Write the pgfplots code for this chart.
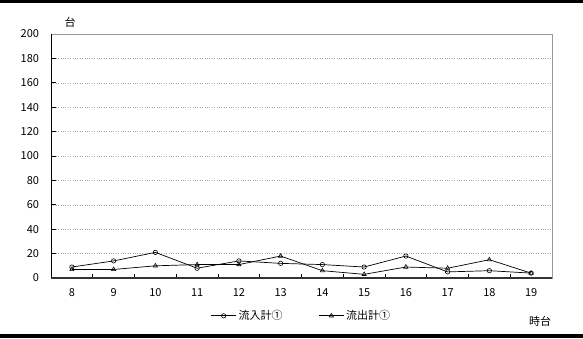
\documentclass[border=0pt]{standalone}
\usepackage{fontspec}
\setmainfont{Noto Sans CJK JP}
\usepackage{pgfplots}
\pgfplotsset{compat=1.18}
\begin{document}
\begin{tikzpicture}[x=1pt,y=1pt]
\path[use as bounding box] (0,0) rectangle (583,338);
% rules above and below the chart
\fill[black] (0,335.3) rectangle (583,338);
\fill[black] (0,0) rectangle (583,3.6);
\begin{axis}[
  at={(51pt,60pt)}, anchor=south west,
  scale only axis, width=501pt, height=244pt,
  xmin=7.5, xmax=19.5, ymin=0, ymax=200,
  xtick={7.5,8.5,...,19.5}, x tick label as interval,
  xticklabels={8,9,10,11,12,13,14,15,16,17,18,19},
  ytick={0,20,...,200},
  xtick pos=bottom, ytick pos=left,
  xtick align=inside, ytick align=inside,
  major tick length=4.5pt,
  every tick/.style={black, line width=0.9pt},
  ymajorgrids, major grid style={gray!70, dotted, line width=0.6pt},
  axis line style={gray!80, line width=0.6pt},
  ticklabel style={font=\fontsize{11}{12}\selectfont},
  yticklabel style={xshift=-8.5pt, /pgf/number format/assume math mode=true},
  xticklabel style={yshift=-7pt},
  legend style={at={(0.5,-0.155)}, anchor=center, draw=none, fill=none,
    legend columns=2, font=\fontsize{11}{12}\selectfont,
    /tikz/every even column/.append style={column sep=34pt}},
  legend image code/.code={\draw[mark repeat=2,mark phase=2]
    plot coordinates {(0pt,0pt)(12.5pt,0pt)(25pt,0pt)};},
  clip=false,
]
\addplot[black, line width=0.7pt, mark=o, mark size=2.2pt,
  mark options={fill=white, line width=0.6pt}]
  coordinates {(8,9)(9,14)(10,21)(11,8)(12,14)(13,12)(14,11)(15,9)(16,18)(17,5)(18,6)(19,4)};
\addlegendentry{流入計①}
\addplot[black, line width=0.7pt, mark=triangle, mark size=2.4pt,
  mark options={fill=white, line width=0.6pt}]
  coordinates {(8,7)(9,7)(10,10)(11,11)(12,11)(13,18)(14,6)(15,3)(16,9)(17,8)(18,15)(19,4)};
\addlegendentry{流出計①}
\draw[black, line width=1pt] (rel axis cs:0,0) -- (rel axis cs:0,1);
\draw[black!80, line width=1.8pt] (rel axis cs:0,0) -- (rel axis cs:1,0);
\end{axis}
\node[font=\fontsize{11}{12}\selectfont] at (70,316) {台};
\node[font=\fontsize{11}{12}\selectfont] at (540,17) {時台};
\end{tikzpicture}
\end{document}
